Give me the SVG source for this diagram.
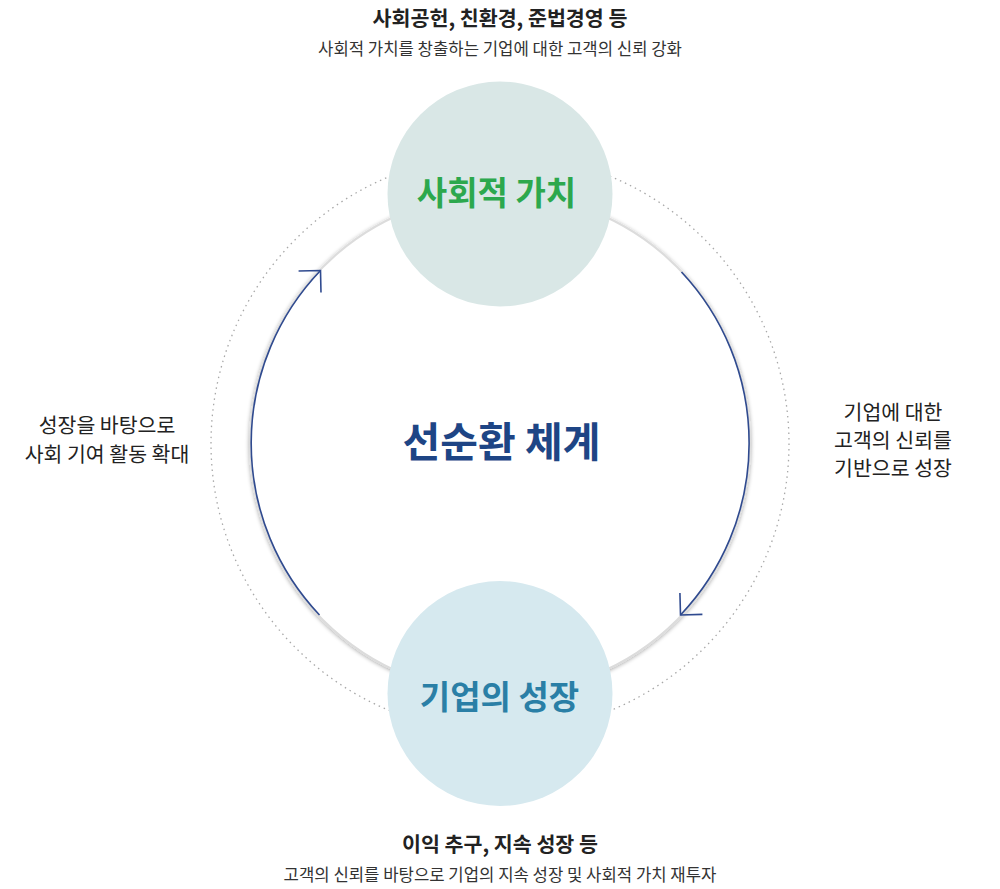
<svg xmlns="http://www.w3.org/2000/svg" width="1000" height="889" viewBox="0 0 1000 889">
<style>
text{font-family:"Noto Sans CJK KR","Noto Sans",sans-serif;text-anchor:middle}
.title{font-size:20.6px;font-weight:700;fill:#222}
.sub{font-size:16.7px;fill:#333}
.side{font-size:20.5px;fill:#222}
.node-label{font-size:33px;font-weight:700}
.flow{fill:none;stroke:#2f4a8f;stroke-width:1.6;marker-end:url(#chev)}
</style>
<defs>
<marker id="chev" markerUnits="userSpaceOnUse" markerWidth="40" markerHeight="40" viewBox="-20 -20 40 40" refX="0" refY="0" orient="auto">
<path d="M-15.5,-15.5 L0,0 L-15.5,15.5" fill="none" stroke="#2f4a8f" stroke-width="1.6"/>
</marker>
<filter id="sh" x="-10%" y="-10%" width="120%" height="120%">
<feGaussianBlur in="SourceAlpha" stdDeviation="2.2"/>
<feOffset dx="0" dy="1" result="b"/>
<feComponentTransfer><feFuncA type="linear" slope="0.35"/></feComponentTransfer>
<feMerge><feMergeNode/><feMergeNode in="SourceGraphic"/></feMerge>
</filter>
</defs>
<rect width="1000" height="889" fill="#fff"/>
<g id="texts-top">
<text class="title" x="500" y="26">사회공헌, 친환경, 준법경영 등</text>
<text class="sub" x="500" y="55">사회적 가치를 창출하는 기업에 대한 고객의 신뢰 강화</text>
</g>
<g id="rings">
<circle cx="500" cy="443.5" r="289" fill="none" stroke="#a8a8a8" stroke-width="1.3" stroke-dasharray="1.5 4"/>
<circle cx="500" cy="443.5" r="250" fill="#fff" stroke="#dcdcdc" stroke-width="2" filter="url(#sh)"/>
</g>
<g id="connectors">
<path class="flow" d="M319.5,615 A250,250 0 0 1 320.5,270.5"/>
<path class="flow" d="M681.5,272 A250,250 0 0 1 680.5,615"/>
</g>
<g id="node-social">
<circle cx="500" cy="194" r="112.5" fill="#d9e7e6"/>
<text class="node-label" x="496.5" y="205" fill="#2ca84d">사회적 가치</text>
</g>
<g id="node-growth">
<circle cx="500" cy="693.5" r="112.5" fill="#d6e9ef"/>
<text class="node-label" x="499.5" y="708.5" fill="#2a7fa6">기업의 성장</text>
</g>
<g id="center">
<text x="501.5" y="457" font-size="41" font-weight="700" fill="#1e4585">선순환 체계</text>
</g>
<g id="side-left">
<text class="side" x="107" y="433">성장을 바탕으로</text>
<text class="side" x="107" y="461.5">사회 기여 활동 확대</text>
</g>
<g id="side-right">
<text class="side" x="893" y="420">기업에 대한</text>
<text class="side" x="893" y="448">고객의 신뢰를</text>
<text class="side" x="893" y="476">기반으로 성장</text>
</g>
<g id="texts-bottom">
<text class="title" x="500" y="851.5">이익 추구, 지속 성장 등</text>
<text class="sub" x="500" y="881">고객의 신뢰를 바탕으로 기업의 지속 성장 및 사회적 가치 재투자</text>
</g>
</svg>
